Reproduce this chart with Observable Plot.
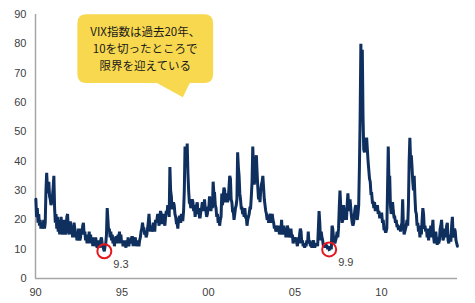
<!DOCTYPE html>
<html>
<head>
<meta charset="utf-8">
<script src="https://cdn.jsdelivr.net/npm/d3@7"></script>
<script src="https://cdn.jsdelivr.net/npm/@observablehq/plot@0.6"></script>
<style>
  html, body { margin: 0; padding: 0; background: #fff; }
  #chart svg { display: block; }
</style>
</head>
<body>
<div id="chart"></div>
<script>
// VIX index, two samples per month (first half / second half)
const vix1990_94 = [
  27,21,24,19,22,18,20,17,19,17,18,20,17,19,30,36,31,29,33,28,27,25,26,28,
  31,35,24,19,22,17,21,16,20,15,18,21,16,15,17,20,18,15,17,21,22,17,15,19,
  19,15,18,14,17,19,17,14,16,13,14,17,15,13,14,17,15,18,19,15,16,13,15,12,
  14,12,16,12,15,12,14,11,14,11,12,14,12,10.5,11,13,12,10.5,13,14,12,11,10,9.3,
  11,12,15,24,20,16,17,14,16,13,15,12,14,11,13,14,14,12,15,13,16,12,15,12
];
const vix1995_99 = [
  13,11,13,11,12,10.5,13,11,14,11,13,12,13,14,14,11,14,13,14,11,13,12,13,11,
  13,14,16,17,19,17,17,15,16,14,15,17,19,22,18,16,18,16,17,19,18,16,20,19,
  20,22,20,18,21,23,22,19,19,22,20,18,21,23,22,25,24,21,38,30,28,24,24,26,
  25,22,21,19,19,17,20,21,21,19,22,20,20,23,30,45,42,38,46,36,30,26,26,24,
  25,27,26,23,25,21,23,25,26,22,24,21,21,23,24,26,25,23,27,24,23,21,22,24
];
const vix2000_04 = [
  24,28,25,23,27,24,33,29,29,25,24,21,22,19,21,18,20,21,29,25,28,31,30,26,
  27,29,26,27,31,35,34,27,26,23,23,20,22,24,25,27,43,38,35,29,27,24,24,22,
  23,21,24,21,21,18,20,21,22,24,24,28,33,45,38,32,34,40,42,36,31,27,29,26,
  30,32,33,35,31,27,25,23,22,20,21,19,21,22,21,19,22,20,19,17,18,16,17,18,
  16,18,15,17,16,20,15,17,18,15,17,14,16,18,17,14,15,14,17,14,15,12,13,14
];
const vix2005_09 = [
  13,14,12,11,14,12,15,17,16,12,13,11,12,10.5,12,11,13,12,16,12,13,11,12,10.5,
  12,13,12,10.5,12,11,12,11,17,23,19,13,16,14,13,11,12,10.5,12,11,11,10,11,9.9,
  10,11,10,18,17,14,13,12,13,14,16,14,17,24,30,25,22,19,20,25,23,20,23,20,
  25,29,25,23,27,24,21,19,18,19,22,24,25,21,20,22,25,38,55,80,62,78,55,44,
  43,45,46,48,44,40,37,34,33,29,29,26,26,24,26,23,25,23,25,22,23,21,21,22
];
const vix2010_14 = [
  22,19,20,17,17,16,16,17,30,45,33,35,25,22,24,26,23,21,21,19,20,18,18,17,
  17,18,16,18,19,27,18,15,16,17,18,20,18,25,40,48,40,42,38,33,30,35,28,23,
  22,18,19,16,17,14,18,15,20,24,22,17,18,16,17,14,16,13,17,15,18,14,17,20,
  14,12,14,16,13,11.5,14,12,13,17,18,20,16,13,14,17,16,14,18,19,13,12,15,13,
  13,18,21,15,14,17,16,13,12,11
];
const blockStarts = [1990, 1995, 2000, 2005, 2010];
const blocks = [vix1990_94, vix1995_99, vix2000_04, vix2005_09, vix2010_14];

const yTicks = [0, 10, 20, 30, 40, 50, 60, 70, 80, 90];
const xTicks = [1990, 1995, 2000, 2005, 2010];

const lowYears = [1993.98, 2006.98];
const lowValues = [9.3, 9.9];
const lowLabels = ["9.3", "9.9"];

const calloutLines = ["VIX指数は過去20年、", "10を切ったところで", "限界を迎えている"];
// callout box in data units: x from/to (year), y from/to (value), tip (year, value), base (years)
const calloutBoxX = [1992.45, 2000.3];
const calloutBoxY = [66.5, 89.9];
const calloutTip = [1998.55, 61.6];
const calloutBase = [1997.05, 1998.95];

const series = [];
blocks.forEach((arr, b) => {
  arr.forEach((v, i) => series.push({t: blockStarts[b] + i / 24 + 1 / 48, v}));
});
const lows = lowYears.map((t, i) => ({t, v: lowValues[i], label: lowLabels[i]}));

const font = "'Liberation Sans', Arial, sans-serif";
const axisColor = "#a6a6a6";

const plot = Plot.plot({
  width: 475,
  height: 303,
  marginLeft: 35,
  marginRight: 18,
  marginTop: 14,
  marginBottom: 25,
  style: {fontFamily: font, fontSize: "11px", color: "#404040", background: "#fff"},
  x: {domain: [1990, 2014.4], label: null},
  y: {domain: [0, 90], label: null},
  marks: [
    Plot.axisY({ticks: yTicks, tickSize: 0, tickPadding: 9, fontSize: 11, label: null, fill: "#404040"}),
    Plot.axisX({ticks: xTicks, tickSize: 0, tickPadding: 10, fontSize: 11, label: null, fill: "#404040",
      tickFormat: d => String(d).slice(2)}),
    Plot.ruleX([1990], {stroke: axisColor, strokeWidth: 1.5}),
    Plot.ruleY([0], {stroke: axisColor, strokeWidth: 1.5}),
    Plot.line(series, {x: "t", y: "v", stroke: "#0f2f5f", strokeWidth: 3, strokeLinejoin: "miter", strokeMiterlimit: 2}),
    Plot.dot(lows, {x: "t", y: "v", r: 7, stroke: "#e3171d", strokeWidth: 2, fill: "none"}),
    Plot.text(lows, {x: "t", y: "v", text: "label", dx: 9, dy: 13, textAnchor: "start", fill: "#404040", fontSize: 11})
  ]
});

// callout bubble positioned via the plot's scales
const sx = plot.scale("x"), sy = plot.scale("y");
const x0 = sx.apply(calloutBoxX[0]), x1 = sx.apply(calloutBoxX[1]);
const y0 = sy.apply(calloutBoxY[1]), y1 = sy.apply(calloutBoxY[0]);
const tx = sx.apply(calloutTip[0]), ty = sy.apply(calloutTip[1]);
const b0 = sx.apply(calloutBase[0]), b1 = sx.apply(calloutBase[1]);
const r = 9;
const path = `M${x0 + r},${y0} H${x1 - r} Q${x1},${y0} ${x1},${y0 + r} V${y1 - r} Q${x1},${y1} ${x1 - r},${y1}
  H${b1} L${tx},${ty} L${b0},${y1} H${x0 + r} Q${x0},${y1} ${x0},${y1 - r} V${y0 + r} Q${x0},${y0} ${x0 + r},${y0} Z`;
const svg = d3.select(plot);
svg.append("path").attr("d", path).attr("fill", "#f7d84f");
const cx = (x0 + x1) / 2;
const cy = (y0 + y1) / 2;
const lh = 17;
svg.append("g")
  .selectAll("text").data(calloutLines).join("text")
  .attr("x", cx)
  .attr("y", (d, i) => cy + (i - 1) * lh)
  .attr("dy", "0.35em")
  .attr("text-anchor", "middle")
  .attr("font-family", "'Noto Sans CJK JP', sans-serif")
  .attr("font-size", 11.5)
  .attr("fill", "#1a1a1a")
  .text(d => d);

document.getElementById("chart").appendChild(plot);
</script>
</body>
</html>
